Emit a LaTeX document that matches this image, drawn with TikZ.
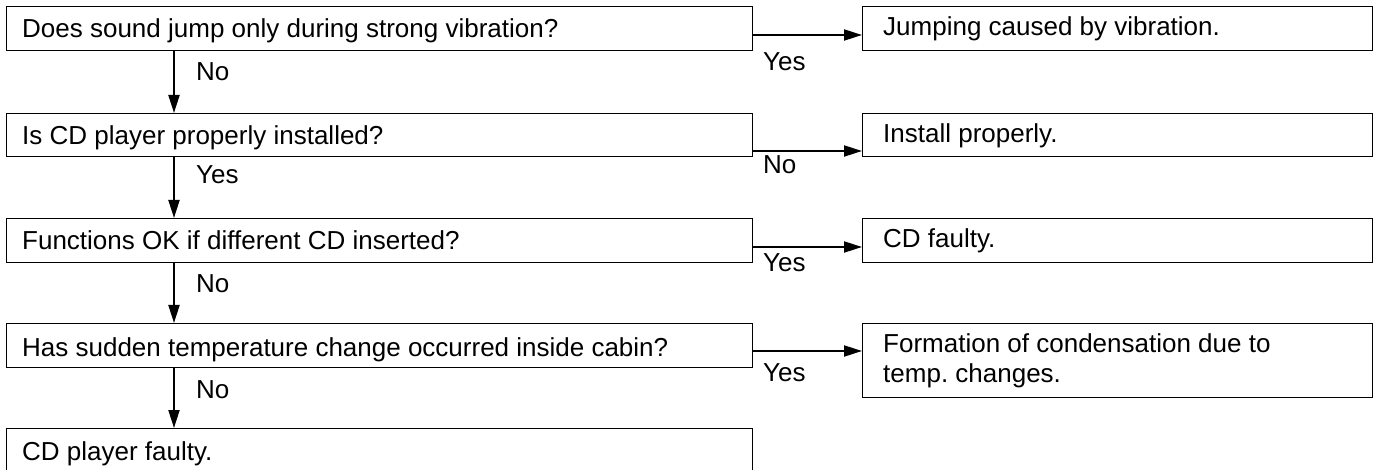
\documentclass[tikz,border=0pt]{standalone}
\usepackage{fontspec}
\setmainfont{Liberation Sans}
\usetikzlibrary{arrows.meta}
\frenchspacing
\begin{document}
\begin{tikzpicture}[x=1pt,y=-1pt,
  box/.style={draw=black, line width=1.2pt, rectangle, inner sep=0pt, anchor=north west},
  txt/.style={anchor=base west, inner sep=0pt, font=\fontsize{26}{30}\selectfont},
  lab/.style={anchor=west, inner sep=0pt, font=\fontsize{26}{30}\selectfont},
  arr/.style={line width=2pt, -{Triangle[length=18pt,width=11pt]}}]
\clip (0,0) rectangle (1376,470);
% left column
\node[box, minimum width=746pt, minimum height=44pt] (q1) at (6,6) {};
\node[box, minimum width=746pt, minimum height=43pt] (q2) at (6,113) {};
\node[box, minimum width=746pt, minimum height=44pt] (q3) at (6,218) {};
\node[box, minimum width=746pt, minimum height=44pt] (q4) at (6,323) {};
\node[box, minimum width=746pt, minimum height=44pt] (q5) at (6,428) {};
% right column
\node[box, minimum width=510pt, minimum height=44pt] (a1) at (862,6) {};
\node[box, minimum width=510pt, minimum height=43pt] (a2) at (862,113) {};
\node[box, minimum width=510pt, minimum height=44pt] (a3) at (862,218) {};
\node[box, minimum width=510pt, minimum height=74pt] (a4) at (862,323) {};
% texts
\node[txt] (q1t) at ([xshift=16pt,yshift=-32pt]q1.north west) {Does sound jump only during strong vibration?};
\node[txt] (q2t) at ([xshift=16pt,yshift=-32pt]q2.north west) {Is CD player properly installed?};
\node[txt] (q3t) at ([xshift=16pt,yshift=-32pt]q3.north west) {Functions OK if different CD inserted?};
\node[txt] (q4t) at ([xshift=16pt,yshift=-33pt]q4.north west) {Has sudden temperature change occurred inside cabin?};
\node[txt] (q5t) at ([xshift=16pt,yshift=-32pt]q5.north west) {CD player faulty.};
\node[txt] (a1t) at ([xshift=21pt,yshift=-30pt]a1.north west) {Jumping caused by vibration.};
\node[txt] (a2t) at ([xshift=21pt,yshift=-30pt]a2.north west) {Install properly.};
\node[txt] (a3t) at ([xshift=21pt,yshift=-30pt]a3.north west) {CD faulty.};
\node[anchor=north west, align=left, inner sep=0pt, font=\fontsize{26}{30}\selectfont] (a4t)
  at ([xshift=21pt,yshift=-10pt]a4.north west) {Formation of condensation due to\\temp. changes.};
% vertical arrows
\draw[arr] ([xshift=168pt]q1.south west) -- ([xshift=168pt]q2.north west);
\draw[arr] ([xshift=168pt]q2.south west) -- ([xshift=168pt]q3.north west);
\draw[arr] ([xshift=168pt]q3.south west) -- ([xshift=168pt]q4.north west);
\draw[arr] ([xshift=168pt]q4.south west) -- ([xshift=168pt]q5.north west);
% horizontal arrows
\draw[arr] ([yshift=-29pt]q1.north east) -- ([yshift=-29pt]a1.north west);
\draw[arr] ([yshift=-38pt]q2.north east) -- ([yshift=-38pt]a2.north west);
\draw[arr] ([yshift=-29pt]q3.north east) -- ([yshift=-29pt]a3.north west);
\draw[arr] ([yshift=-28pt]q4.north east) -- ([yshift=-28pt]a4.north west);
% labels
\node[lab] (l1) at (196,72) {No};
\node[lab] (l2) at (196,175) {Yes};
\node[lab] (l3) at (196,284) {No};
\node[lab] (l4) at (196,390) {No};
\node[lab] (r1) at (763,62) {Yes};
\node[lab] (r2) at (763,165) {No};
\node[lab] (r3) at (763,263) {Yes};
\node[lab] (r4) at (763,373) {Yes};
\end{tikzpicture}
\end{document}
